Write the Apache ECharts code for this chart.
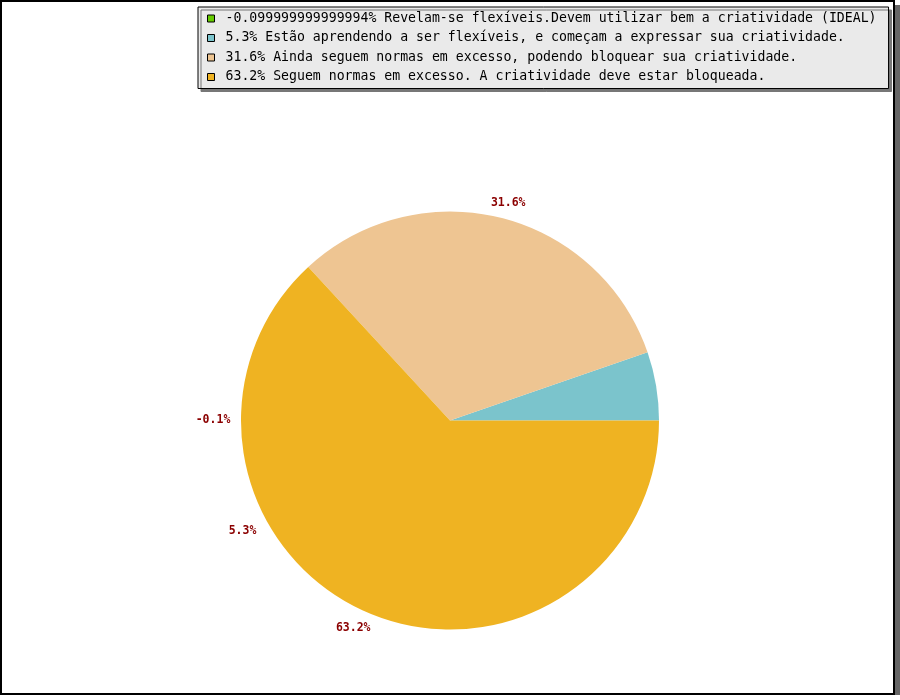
<!DOCTYPE html>
<html>
<head>
<meta charset="utf-8">
<script src="https://cdn.jsdelivr.net/npm/echarts@6/dist/echarts.min.js"></script>
<style>
  html, body { margin: 0; padding: 0; background: #fff; }
  .frame {
    width: 891px;
    height: 691px;
    border: 2px solid #000;
    box-shadow: 5px 5px 0 #666;
    background: #fff;
  }
  #chart { width: 891px; height: 691px; }
</style>
</head>
<body>
<div class="frame"><div id="chart"></div></div>
<script>
// valores e descricoes da legenda
var values = [-0.099999999999994, 5.3, 31.6, 63.2]
var descriptions = [
    'Revelam-se flexíveis.Devem utilizar bem a criatividade (IDEAL)',
    'Estão aprendendo a ser flexíveis, e começam a expressar sua criatividade.',
    'Ainda seguem normas em excesso, podendo bloquear sua criatividade.',
    'Seguem normas em excesso. A criatividade deve estar bloqueada.'
]
var colors = ['#66cc00', '#7bc4cc', '#eec592', '#efb322']

// onde cada rotulo fica (angulo em graus, distancia do centro)
var labelAngles = [180, 208, 75, 245]
var labelDist = [237, 235, 225, 229]

var cx = 448, cy = 418.5, radius = 209

var names = values.map(function (v, i) {
    return v + '% ' + descriptions[i]
})

var chart = echarts.init(document.getElementById('chart'))
chart.setOption({
    animation: false,
    backgroundColor: '#fff',
    legend: {
        orient: 'vertical',
        left: 196,
        top: 5,
        padding: [5, 12, 5, 9],
        backgroundColor: '#eaeaea',
        borderColor: '#000',
        borderWidth: 1,
        shadowColor: '#777',
        shadowBlur: 0,
        shadowOffsetX: 3,
        shadowOffsetY: 3,
        icon: 'rect',
        itemWidth: 7,
        itemHeight: 7,
        itemGap: 6.5,
        itemStyle: { borderColor: '#000', borderWidth: 1 },
        selectedMode: false,
        textStyle: {
            fontFamily: 'DejaVu Sans Mono',
            fontSize: 13.2,
            lineHeight: 13,
            color: '#000',
            padding: [0, 0, 0, 6]
        },
        data: names
    },
    series: [{
        type: 'pie',
        center: [cx, cy],
        radius: radius,
        startAngle: 0,
        clockwise: false,
        avoidLabelOverlap: false,
        color: colors,
        label: {
            show: true,
            position: 'outside',
            fontFamily: 'DejaVu Sans Mono',
            fontWeight: 'bold',
            fontSize: 11.5,
            color: '#8b0000',
            formatter: function (p) {
                return values[p.dataIndex].toFixed(1) + '%'
            }
        },
        labelLine: { show: false },
        labelLayout: function (p) {
            var a = labelAngles[p.dataIndex] * Math.PI / 180
            var d = labelDist[p.dataIndex]
            return {
                x: cx + d * Math.cos(a),
                y: cy - d * Math.sin(a),
                align: 'center',
                verticalAlign: 'middle'
            }
        },
        emphasis: { disabled: true },
        // fatia negativa nao tem angulo: entra com 0 e o rotulo mostra o valor real
        data: values.map(function (v, i) {
            return { name: names[i], value: Math.max(v, 0) }
        })
    }]
})
</script>
</body>
</html>
